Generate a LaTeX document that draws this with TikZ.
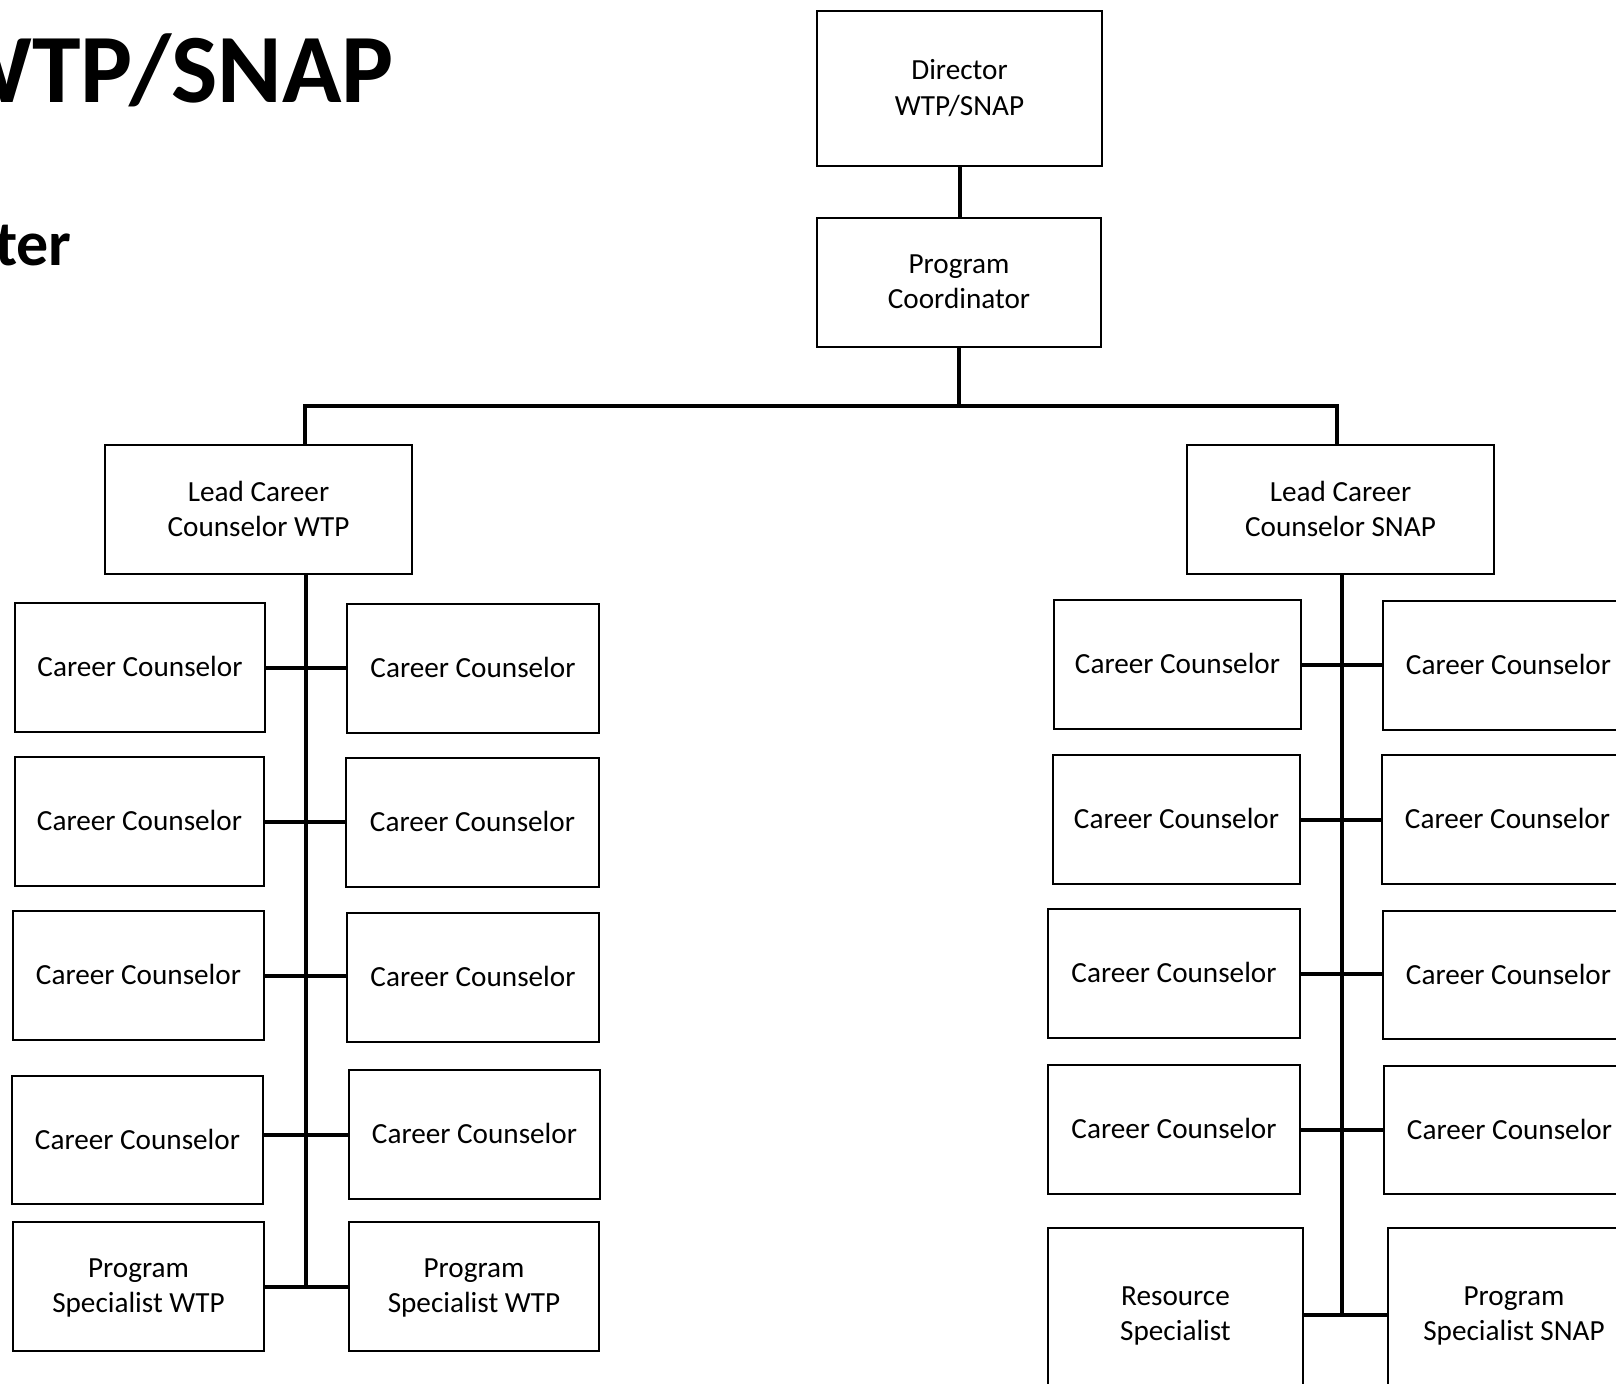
\documentclass[tikz,border=0pt]{standalone}
\usepackage{fontspec}
\setmainfont{Carlito}
\newcommand\orgbox[6]{\node[box,minimum width={(#4-#2)*0.5pt},minimum height={(#5-#3)*0.5pt}] (#1) at ({(#2+#4)/2},{(#3+#5)/2+2}) {#6};}
\begin{document}
\begin{tikzpicture}[x=0.5pt,y=-0.5pt,
  box/.style={draw, line width=1.4pt, align=center, inner sep=0pt, outer sep=0pt,
    font=\fontsize{14.6}{17.6}\selectfont, text depth=1pt},
  conn/.style={line width=2pt},
  titlefont/.style={font=\fontsize{49}{58}\selectfont\bfseries, inner sep=0pt}]
\useasboundingbox (0,0) rectangle (1616,1383);
% titles
\node[titlefont, anchor=base east] (title) at (394,102) {WTP/SNAP};
\node[font=\fontsize{32}{38}\selectfont\bfseries, inner sep=0pt, anchor=base east] (sub) at (72,265) {ter};
% top
\orgbox{dir}{817}{9}{1102}{164}{Director\\WTP/SNAP}
\orgbox{pc}{817}{216}{1101}{345}{Program\\Coordinator}
\orgbox{lw}{105}{443}{412}{572}{Lead Career\\Counselor WTP}
\orgbox{ls}{1187}{443}{1494}{572}{Lead Career\\Counselor SNAP}
% WTP column
\orgbox{w1l}{15}{601}{265}{730}{Career Counselor}
\orgbox{w1r}{347}{602}{599}{731}{Career Counselor}
\orgbox{w2l}{15}{755}{264}{884}{Career Counselor}
\orgbox{w2r}{346}{756}{599}{885}{Career Counselor}
\orgbox{w3l}{13}{909}{264}{1038}{Career Counselor}
\orgbox{w3r}{347}{911}{599}{1040}{Career Counselor}
\orgbox{w4l}{12}{1074}{263}{1202}{Career Counselor}
\orgbox{w4r}{349}{1068}{600}{1197}{Career Counselor}
\orgbox{w5l}{13}{1220}{264}{1349}{Program\\Specialist WTP}
\orgbox{w5r}{349}{1220}{599}{1349}{Program\\Specialist WTP}
% SNAP column
\orgbox{s1l}{1054}{598}{1301}{727}{Career Counselor}
\orgbox{s1r}{1383}{599}{1634}{728}{Career Counselor}
\orgbox{s2l}{1053}{753}{1300}{882}{Career Counselor}
\orgbox{s2r}{1382}{753}{1633}{882}{Career Counselor}
\orgbox{s3l}{1048}{907}{1300}{1036}{Career Counselor}
\orgbox{s3r}{1383}{909}{1634}{1037}{Career Counselor}
\orgbox{s4l}{1048}{1063}{1300}{1192}{Career Counselor}
\orgbox{s4r}{1384}{1064}{1635}{1192}{Career Counselor}
\orgbox{s5l}{1048}{1226}{1303}{1400}{Resource\\Specialist}
\orgbox{s5r}{1388}{1226}{1640}{1400}{Program\\Specialist SNAP}
% connectors top
\coordinate (jL) at (305,406);
\coordinate (jR) at (1337,406);
\draw[conn] (dir.south) -- (dir.south |- pc.north);
\draw[conn] (pc.south) -- (pc.south |- jL);
\draw[conn] (lw.north -| jL) -- (jL) -- (jR) -- (ls.north -| jR);
% WTP spine
\coordinate (sw) at (306,1288);
\draw[conn] (lw.south -| sw) -- (sw);
\draw[conn] (w1l.east) -- (w1l.east -| w1r.west);
\draw[conn] (w2l.east) -- (w2l.east -| w2r.west);
\draw[conn] (w3l.east) -- (w3l.east -| w3r.west);
\draw[conn] (w4r.west) -- (w4r.west -| w4l.east);
\draw[conn] (w5l.east) -- (w5l.east -| w5r.west);
% SNAP spine
\coordinate (ss) at (1342,1313);
\draw[conn] (ls.south -| ss) -- (ss);
\draw[conn] (s1l.east) -- (s1l.east -| s1r.west);
\draw[conn] (s2l.east) -- (s2l.east -| s2r.west);
\draw[conn] (s3l.east) -- (s3l.east -| s3r.west);
\draw[conn] (s4l.east) -- (s4l.east -| s4r.west);
\draw[conn] (s5l.east) -- (s5l.east -| s5r.west);
\end{tikzpicture}
\end{document}
